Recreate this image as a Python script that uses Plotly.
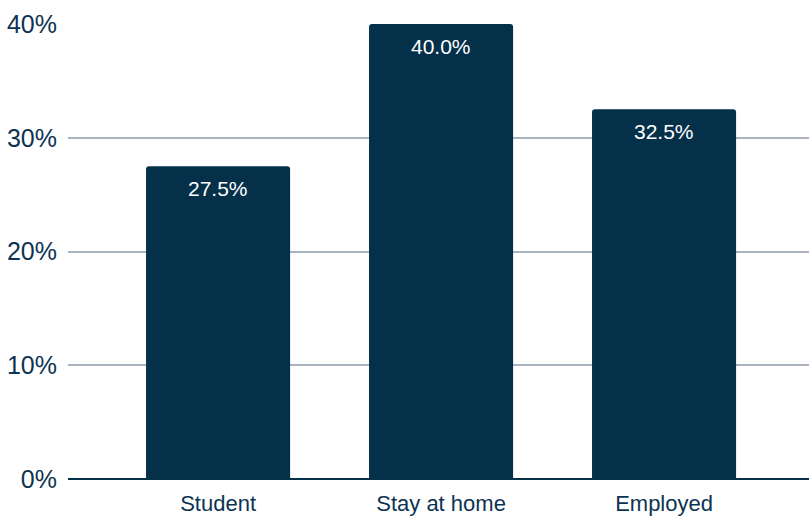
import plotly.graph_objects as go

categories = ["Student", "Stay at home", "Employed"]
shares = [27.5, 40.0, 32.5]
y_ticks = [0, 10, 20, 30, 40]
y_tick_labels = ["0%", "10%", "20%", "30%", "40%"]

navy = "#04304a"
font_family = "Liberation Sans, Arial, sans-serif"

fig = go.Figure(
    go.Bar(
        x=categories,
        y=shares,
        width=0.646,
        marker=dict(color=navy, cornerradius=3, line=dict(width=0)),
        hoverinfo="skip",
    )
)

# value labels just under the top of each bar
for cat, val in zip(categories, shares):
    fig.add_annotation(
        x=cat, y=val, text=f"{val:.1f}%", showarrow=False,
        yanchor="top", yshift=-9,
        font=dict(family=font_family, size=21, color="white"),
    )

fig.update_layout(
    width=809, height=516,
    margin=dict(l=68, r=0, t=24, b=37),
    plot_bgcolor="white", paper_bgcolor="white",
    showlegend=False,
    font=dict(family=font_family, color="#0d3352"),
    xaxis=dict(
        range=[-0.673, 2.65], automargin=False,
        showgrid=False, zeroline=False, showline=False,
        ticks="", ticklabelstandoff=9,
        tickfont=dict(size=22, color="#0d3352"),
    ),
    yaxis=dict(
        range=[0, 40], automargin=False,
        tickvals=y_ticks, ticktext=y_tick_labels,
        showgrid=True, gridcolor="#a9b4c0", gridwidth=2,
        zeroline=True, zerolinecolor=navy, zerolinewidth=2,
        showline=False, ticks="", ticklabelstandoff=10,
        tickfont=dict(size=25, color="#0d3352"),
    ),
)

fig.write_html("out.html")
